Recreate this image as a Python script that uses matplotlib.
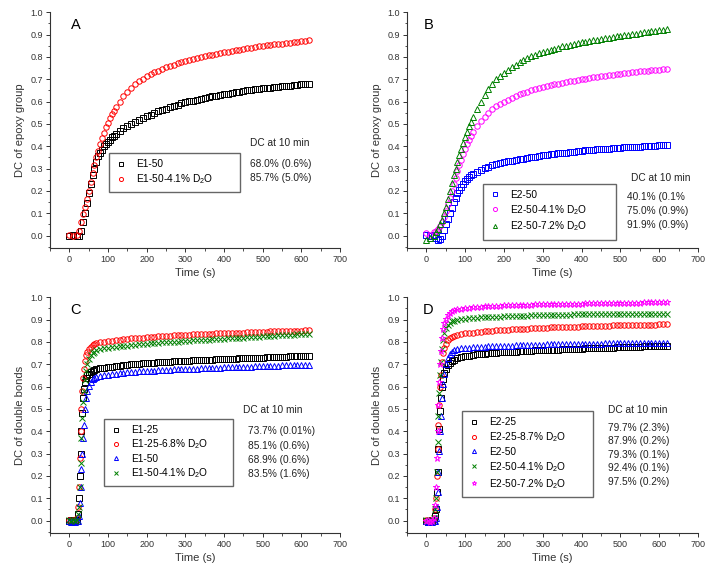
import matplotlib
matplotlib.use('Agg')
import matplotlib.pyplot as plt
from matplotlib.ticker import MultipleLocator, FormatStrFormatter

plt.rcParams['font.family'] = ['Liberation Sans', 'DejaVu Sans']
plt.rcParams['mathtext.fontset'] = 'custom'
plt.rcParams['mathtext.rm'] = 'Liberation Sans'

# tiempos de muestreo (s)
t_ab = [0, 10, 20, 25, 30, 35, 40, 45, 50, 55, 60, 65, 70, 75, 80, 85, 90, 95, 100, 105, 110, 115, 120,
        130, 140, 150, 160, 170, 180, 190, 200, 210, 220,
        230, 240, 250, 260, 270, 280, 290, 300, 310, 320,
        330, 340, 350, 360, 370, 380, 390, 400, 410, 420,
        430, 440, 450, 460, 470, 480, 490, 500, 510, 520,
        530, 540, 550, 560, 570, 580, 590, 600, 610, 620]
t_cd = [0, 5, 10, 15, 20, 23, 25, 27, 29, 31, 33, 35, 37, 40, 43, 46, 50, 55, 60, 65, 70,
        80, 90, 100, 110, 120, 130, 140, 150, 160, 170,
        180, 190, 200, 210, 220, 230, 240, 250, 260, 270,
        280, 290, 300, 310, 320, 330, 340, 350, 360, 370,
        380, 390, 400, 410, 420, 430, 440, 450, 460, 470,
        480, 490, 500, 510, 520, 530, 540, 550, 560, 570,
        580, 590, 600, 610, 620]

# Panel A - DC grupo epoxi
a_e1_50 = [0.0, 0.005, 0.0, 0.0, 0.02, 0.06, 0.10, 0.145, 0.19, 0.23, 0.27, 0.30, 0.33, 0.355, 0.37, 0.385,
           0.40, 0.41, 0.42, 0.43, 0.44, 0.447, 0.455,
           0.468, 0.48, 0.49, 0.50, 0.51, 0.52, 0.528, 0.535, 0.542, 0.549,
           0.556, 0.562, 0.568, 0.574, 0.58, 0.586, 0.592, 0.597, 0.601, 0.605,
           0.609, 0.613, 0.617, 0.621, 0.624, 0.627, 0.630, 0.633, 0.636, 0.639,
           0.642, 0.645, 0.648, 0.650, 0.652, 0.655, 0.657, 0.659, 0.661, 0.663,
           0.665, 0.667, 0.669, 0.671, 0.672, 0.674, 0.676, 0.677, 0.679, 0.680]
a_e1_50_d2o = [0.005, 0.0, 0.005, 0.02, 0.06, 0.095, 0.13, 0.165, 0.20, 0.24, 0.28, 0.315, 0.35, 0.38, 0.41,
               0.435, 0.46, 0.485, 0.505, 0.525, 0.545, 0.56, 0.575,
               0.600, 0.625, 0.645, 0.663, 0.678, 0.692, 0.703, 0.713, 0.722, 0.731,
               0.739, 0.746, 0.753, 0.759, 0.765, 0.771, 0.776, 0.781, 0.786, 0.790,
               0.795, 0.799, 0.803, 0.807, 0.811, 0.814, 0.818, 0.821, 0.824, 0.827,
               0.830, 0.833, 0.836, 0.839, 0.842, 0.844, 0.847, 0.849, 0.852, 0.854,
               0.856, 0.858, 0.860, 0.862, 0.864, 0.866, 0.868, 0.870, 0.872, 0.874]

# Panel B - DC grupo epoxi
b_e2_50 = [0.005, 0.0, 0.005, -0.01, -0.02, -0.015, 0.0, 0.025, 0.05, 0.075, 0.10, 0.125, 0.15, 0.17, 0.19,
           0.205, 0.22, 0.232, 0.244, 0.254, 0.263, 0.27, 0.276,
           0.286, 0.295, 0.302, 0.309, 0.315, 0.320, 0.324, 0.328, 0.332, 0.336,
           0.339, 0.342, 0.345, 0.348, 0.351, 0.354, 0.357, 0.360, 0.362, 0.364,
           0.366, 0.368, 0.370, 0.372, 0.374, 0.376, 0.378, 0.380, 0.382, 0.383,
           0.385, 0.386, 0.388, 0.389, 0.390, 0.392, 0.393, 0.394, 0.395, 0.396,
           0.397, 0.398, 0.399, 0.400, 0.401, 0.402, 0.403, 0.404, 0.405, 0.405]
b_e2_50_41 = [0.01, 0.005, 0.015, 0.02, 0.03, 0.045, 0.06, 0.085, 0.11, 0.14, 0.17, 0.20, 0.23, 0.26, 0.29,
              0.315, 0.34, 0.365, 0.39, 0.41, 0.43, 0.448, 0.465,
              0.490, 0.515, 0.533, 0.550, 0.566, 0.580, 0.591, 0.600, 0.609, 0.617,
              0.625, 0.632, 0.639, 0.645, 0.651, 0.656, 0.661, 0.665, 0.669, 0.673,
              0.677, 0.681, 0.685, 0.688, 0.691, 0.694, 0.697, 0.700, 0.703, 0.706,
              0.709, 0.712, 0.715, 0.717, 0.719, 0.721, 0.723, 0.725, 0.727, 0.729,
              0.731, 0.733, 0.735, 0.737, 0.738, 0.740, 0.741, 0.742, 0.744, 0.745]
b_e2_50_72 = [-0.02, -0.01, 0.0, 0.015, 0.03, 0.05, 0.07, 0.10, 0.13, 0.165, 0.20, 0.235, 0.27, 0.30, 0.33,
              0.36, 0.39, 0.415, 0.44, 0.465, 0.49, 0.51, 0.53,
              0.565, 0.600, 0.628, 0.655, 0.678, 0.700, 0.715, 0.730, 0.743, 0.755,
              0.766, 0.776, 0.786, 0.795, 0.803, 0.810, 0.816, 0.822, 0.827, 0.832,
              0.837, 0.842, 0.847, 0.851, 0.855, 0.859, 0.863, 0.866, 0.869, 0.872,
              0.875, 0.878, 0.881, 0.884, 0.887, 0.890, 0.893, 0.896, 0.898, 0.900,
              0.903, 0.905, 0.907, 0.910, 0.912, 0.915, 0.917, 0.920, 0.922, 0.924]

# Panel C - DC dobles enlaces
c_e1_25 = [0.0, 0.005, 0.0, 0.005, 0.0, 0.03, 0.10, 0.20, 0.30, 0.40, 0.48, 0.55, 0.59, 0.62, 0.64, 0.65,
           0.658, 0.665, 0.67, 0.675, 0.678,
           0.682, 0.685, 0.688, 0.690, 0.692, 0.694, 0.696, 0.698, 0.700, 0.701,
           0.703, 0.704, 0.706, 0.707, 0.708, 0.709, 0.710, 0.711, 0.712, 0.713,
           0.714, 0.715, 0.716, 0.717, 0.718, 0.718, 0.719, 0.720, 0.721, 0.721,
           0.722, 0.723, 0.723, 0.724, 0.725, 0.725, 0.726, 0.727, 0.727, 0.728,
           0.729, 0.729, 0.730, 0.731, 0.731, 0.732, 0.733, 0.733, 0.734, 0.735,
           0.735, 0.736, 0.736, 0.737, 0.737]
c_e1_25_d2o = [0.005, 0.0, 0.005, 0.0, 0.01, 0.06, 0.15, 0.28, 0.40, 0.50, 0.58, 0.64, 0.68, 0.715, 0.74, 0.755,
               0.767, 0.777, 0.785, 0.79, 0.794,
               0.798, 0.801, 0.804, 0.806, 0.808, 0.810, 0.812, 0.814, 0.816, 0.817,
               0.819, 0.820, 0.822, 0.823, 0.824, 0.825, 0.826, 0.827, 0.828, 0.829,
               0.830, 0.831, 0.832, 0.833, 0.834, 0.834, 0.835, 0.836, 0.836, 0.837,
               0.838, 0.838, 0.839, 0.840, 0.840, 0.841, 0.842, 0.842, 0.843, 0.844,
               0.844, 0.845, 0.846, 0.846, 0.847, 0.848, 0.848, 0.849, 0.849, 0.850,
               0.850, 0.851, 0.851, 0.852, 0.852]
c_e1_50 = [0.0, -0.005, 0.0, -0.005, 0.0, 0.0, 0.02, 0.08, 0.15, 0.23, 0.30, 0.37, 0.43, 0.50, 0.55, 0.58,
           0.605, 0.622, 0.633, 0.64, 0.645,
           0.649, 0.652, 0.654, 0.656, 0.658, 0.660, 0.662, 0.664, 0.665, 0.667,
           0.668, 0.669, 0.670, 0.671, 0.672, 0.673, 0.674, 0.675, 0.676, 0.677,
           0.678, 0.678, 0.679, 0.680, 0.681, 0.681, 0.682, 0.683, 0.683, 0.684,
           0.685, 0.685, 0.686, 0.687, 0.687, 0.688, 0.688, 0.689, 0.690, 0.690,
           0.691, 0.691, 0.692, 0.692, 0.693, 0.694, 0.694, 0.695, 0.695, 0.696,
           0.696, 0.697, 0.697, 0.698, 0.698]
c_e1_50_d2o = [0.005, 0.0, 0.005, 0.0, 0.005, 0.03, 0.06, 0.15, 0.26, 0.37, 0.46, 0.53, 0.58, 0.63, 0.67, 0.70,
               0.722, 0.74, 0.75, 0.757, 0.762,
               0.767, 0.771, 0.774, 0.776, 0.778, 0.780, 0.782, 0.784, 0.786, 0.788,
               0.789, 0.791, 0.792, 0.794, 0.795, 0.796, 0.798, 0.799, 0.800, 0.801,
               0.802, 0.803, 0.805, 0.806, 0.807, 0.808, 0.809, 0.810, 0.811, 0.812,
               0.813, 0.814, 0.815, 0.816, 0.817, 0.818, 0.819, 0.820, 0.821, 0.822,
               0.823, 0.824, 0.825, 0.826, 0.827, 0.828, 0.829, 0.830, 0.831, 0.832,
               0.833, 0.834, 0.835, 0.836, 0.837]

# Panel D - DC dobles enlaces
d_e2_25 = [0.0, -0.005, 0.0, 0.005, 0.0, 0.02, 0.05, 0.13, 0.22, 0.32, 0.41, 0.49, 0.55, 0.60, 0.635, 0.66,
           0.68, 0.697, 0.708, 0.715, 0.72,
           0.727, 0.732, 0.736, 0.739, 0.742, 0.744, 0.746, 0.748, 0.750, 0.751,
           0.752, 0.753, 0.754, 0.755, 0.756, 0.757, 0.758, 0.759, 0.760, 0.761,
           0.762, 0.762, 0.763, 0.764, 0.765, 0.765, 0.766, 0.767, 0.767, 0.768,
           0.769, 0.769, 0.770, 0.771, 0.771, 0.772, 0.773, 0.773, 0.774, 0.774,
           0.775, 0.776, 0.776, 0.777, 0.777, 0.778, 0.779, 0.779, 0.780, 0.780,
           0.781, 0.782, 0.782, 0.783, 0.783]
d_e2_25_d2o = [0.005, 0.0, 0.005, 0.0, 0.01, 0.05, 0.10, 0.20, 0.32, 0.43, 0.52, 0.60, 0.65, 0.71, 0.75, 0.775,
               0.793, 0.807, 0.816, 0.822, 0.826,
               0.831, 0.835, 0.838, 0.840, 0.842, 0.844, 0.846, 0.848, 0.849, 0.850,
               0.852, 0.853, 0.854, 0.855, 0.856, 0.857, 0.858, 0.859, 0.860, 0.861,
               0.862, 0.862, 0.863, 0.864, 0.865, 0.865, 0.866, 0.867, 0.867, 0.868,
               0.869, 0.869, 0.870, 0.870, 0.871, 0.871, 0.872, 0.872, 0.873, 0.873,
               0.874, 0.874, 0.875, 0.875, 0.876, 0.876, 0.877, 0.877, 0.877, 0.878,
               0.878, 0.878, 0.879, 0.879, 0.879]
d_e2_50 = [0.0, -0.005, 0.0, -0.005, 0.0, 0.0, 0.01, 0.06, 0.13, 0.22, 0.31, 0.40, 0.47, 0.55, 0.61, 0.655,
           0.70, 0.73, 0.748, 0.757, 0.763,
           0.768, 0.771, 0.773, 0.775, 0.776, 0.777, 0.778, 0.779, 0.780, 0.781,
           0.782, 0.782, 0.783, 0.784, 0.784, 0.785, 0.785, 0.786, 0.786, 0.787,
           0.787, 0.788, 0.788, 0.789, 0.789, 0.789, 0.790, 0.790, 0.790, 0.791,
           0.791, 0.791, 0.792, 0.792, 0.792, 0.793, 0.793, 0.793, 0.794, 0.794,
           0.794, 0.794, 0.795, 0.795, 0.795, 0.795, 0.796, 0.796, 0.796, 0.796,
           0.797, 0.797, 0.797, 0.797, 0.797]
d_e2_50_41 = [0.005, 0.0, 0.005, 0.0, 0.01, 0.05, 0.10, 0.22, 0.35, 0.47, 0.57, 0.65, 0.71, 0.77, 0.81, 0.84,
              0.862, 0.877, 0.886, 0.892, 0.896,
              0.900, 0.903, 0.905, 0.907, 0.908, 0.909, 0.910, 0.911, 0.912, 0.913,
              0.914, 0.914, 0.915, 0.916, 0.916, 0.917, 0.917, 0.918, 0.918, 0.919,
              0.919, 0.920, 0.920, 0.920, 0.921, 0.921, 0.921, 0.922, 0.922, 0.922,
              0.923, 0.923, 0.923, 0.923, 0.924, 0.924, 0.924, 0.924, 0.925, 0.925,
              0.925, 0.925, 0.925, 0.926, 0.926, 0.926, 0.926, 0.926, 0.927, 0.927,
              0.927, 0.927, 0.927, 0.927, 0.927]
d_e2_50_72 = [0.0, 0.005, -0.005, 0.0, 0.01, 0.07, 0.15, 0.28, 0.40, 0.52, 0.62, 0.70, 0.76, 0.82, 0.86, 0.885,
              0.905, 0.92, 0.93, 0.937, 0.941,
              0.946, 0.949, 0.952, 0.954, 0.956, 0.957, 0.958, 0.959, 0.960, 0.961,
              0.962, 0.963, 0.964, 0.964, 0.965, 0.965, 0.966, 0.966, 0.967, 0.967,
              0.968, 0.968, 0.969, 0.969, 0.970, 0.970, 0.970, 0.971, 0.971, 0.971,
              0.972, 0.972, 0.972, 0.973, 0.973, 0.973, 0.974, 0.974, 0.974, 0.974,
              0.975, 0.975, 0.975, 0.975, 0.976, 0.976, 0.976, 0.976, 0.977, 0.977,
              0.977, 0.977, 0.978, 0.978, 0.978]

labels_a = ['E1-50', 'E1-50-4.1% D$_2$O']
labels_b = ['E2-50', 'E2-50-4.1% D$_2$O', 'E2-50-7.2% D$_2$O']
labels_c = ['E1-25', 'E1-25-6.8% D$_2$O', 'E1-50', 'E1-50-4.1% D$_2$O']
labels_d = ['E2-25', 'E2-25-8.7% D$_2$O', 'E2-50', 'E2-50-4.1% D$_2$O', 'E2-50-7.2% D$_2$O']

dc_a = ['68.0% (0.6%)', '85.7% (5.0%)']
dc_b = ['40.1% (0.1%', '75.0% (0.9%)', '91.9% (0.9%)']
dc_c = ['73.7% (0.01%)', '85.1% (0.6%)', '68.9% (0.6%)', '83.5% (1.6%)']
dc_d = ['79.7% (2.3%)', '87.9% (0.2%)', '79.3% (0.1%)', '92.4% (0.1%)', '97.5% (0.2%)']

fig = plt.figure(figsize=(7.21, 5.75), dpi=100)
W, H = 721, 575


def px_axes(x0, x1, y_top, y_bot):
    return fig.add_axes([x0 / W, 1 - y_bot / H, (x1 - x0) / W, (y_bot - y_top) / H])


def estilo(ax, ylabel):
    ax.set_xlim(-50, 700)
    ax.set_ylim(-0.054, 1.0)
    ax.spines['top'].set_visible(False)
    ax.spines['right'].set_visible(False)
    for s in ['left', 'bottom']:
        ax.spines[s].set_linewidth(0.8)
        ax.spines[s].set_color('#333333')
    ax.xaxis.set_major_locator(MultipleLocator(100))
    ax.xaxis.set_minor_locator(MultipleLocator(50))
    ax.yaxis.set_major_locator(MultipleLocator(0.1))
    ax.yaxis.set_minor_locator(MultipleLocator(0.05))
    ax.yaxis.set_major_formatter(FormatStrFormatter('%.1f'))
    ax.tick_params(which='major', direction='out', length=3, width=0.7, labelsize=6.5, pad=2,
                   colors='#333333')
    ax.tick_params(which='minor', direction='out', length=1.8, width=0.6, colors='#333333')
    ax.set_xlabel('Time (s)', fontsize=8, labelpad=3, color='#333333')
    ax.set_ylabel(ylabel, fontsize=8, labelpad=4, color='#333333')


def serie(ax, t, y, m, c, lab, ms=3.9):
    ax.plot(t, y, linestyle='none', marker=m, markersize=ms, markerfacecolor='none',
            markeredgecolor=c, markeredgewidth=0.7, label=lab)


def leyenda(ax, x0, x1, ytop, ybot, spacing):
    # caja en fraccion de ejes: esquina inferior izquierda + ancho/alto
    ax.legend(loc='upper left', bbox_to_anchor=(x0, ybot, x1 - x0, ytop - ybot), mode='expand',
              fontsize=7.3, frameon=True, fancybox=False, edgecolor='#666666', framealpha=1,
              borderpad=0.6, labelspacing=spacing, handlelength=1.2, handletextpad=0.9,
              markerscale=0.75, borderaxespad=0)


def texto(x, ys, lines, head_y, head_x):
    fig.text(head_x / W, 1 - head_y / H, 'DC at 10 min', fontsize=7.3, va='center', color='#222222')
    for yy, s in zip(ys, lines):
        fig.text(x / W, 1 - yy / H, s, fontsize=7.3, va='center', color='#222222')


# A
axA = px_axes(50, 340, 12.3, 247.7)
estilo(axA, 'DC of epoxy group')
serie(axA, t_ab, a_e1_50, 's', 'black', labels_a[0])
serie(axA, t_ab, a_e1_50_d2o, 'o', 'red', labels_a[1])
leyenda(axA, 0.203, 0.655, 0.402, 0.254, 0.3)
axA.text(17, 0.943, 'A', fontsize=10.5, va='center', ha='center')
texto(250, [164, 178], dc_a, 143, 250)

# B
axB = px_axes(407, 698, 12.3, 247.7)
estilo(axB, 'DC of epoxy group')
serie(axB, t_ab, b_e2_50, 's', 'blue', labels_b[0])
serie(axB, t_ab, b_e2_50_41, 'o', 'magenta', labels_b[1])
serie(axB, t_ab, b_e2_50_72, '^', 'green', labels_b[2])
leyenda(axB, 0.261, 0.718, 0.272, 0.038, 0.3)
axB.text(5, 0.943, 'B', fontsize=10.5, va='center', ha='center')
texto(627, [197, 211, 225], dc_b, 178, 631)

# C
axC = px_axes(50, 340, 297.3, 532.7)
estilo(axC, 'DC of double bonds')
serie(axC, t_cd, c_e1_25, 's', 'black', labels_c[0])
serie(axC, t_cd, c_e1_25_d2o, 'o', 'red', labels_c[1])
serie(axC, t_cd, c_e1_50, '^', 'blue', labels_c[2])
serie(axC, t_cd, c_e1_50_d2o, 'x', 'green', labels_c[3])
leyenda(axC, 0.186, 0.631, 0.483, 0.198, 0.25)
axC.text(17, 0.943, 'C', fontsize=10.5, va='center', ha='center')
texto(248, [431, 446, 460, 474], dc_c, 410, 243)

# D
axD = px_axes(407, 698, 297.3, 532.7)
estilo(axD, 'DC of double bonds')
serie(axD, t_cd, d_e2_25, 's', 'black', labels_d[0])
serie(axD, t_cd, d_e2_25_d2o, 'o', 'red', labels_d[1])
serie(axD, t_cd, d_e2_50, '^', 'blue', labels_d[2])
serie(axD, t_cd, d_e2_50_41, 'x', 'green', labels_d[3])
serie(axD, t_cd, d_e2_50_72, '*', 'magenta', labels_d[4], ms=4.5)
leyenda(axD, 0.189, 0.639, 0.517, 0.143, 0.3)
axD.text(5, 0.943, 'D', fontsize=10.5, va='center', ha='center')
texto(608, [428, 441, 455, 468, 482], dc_d, 410, 608)

fig.savefig('out.png', dpi=100)
